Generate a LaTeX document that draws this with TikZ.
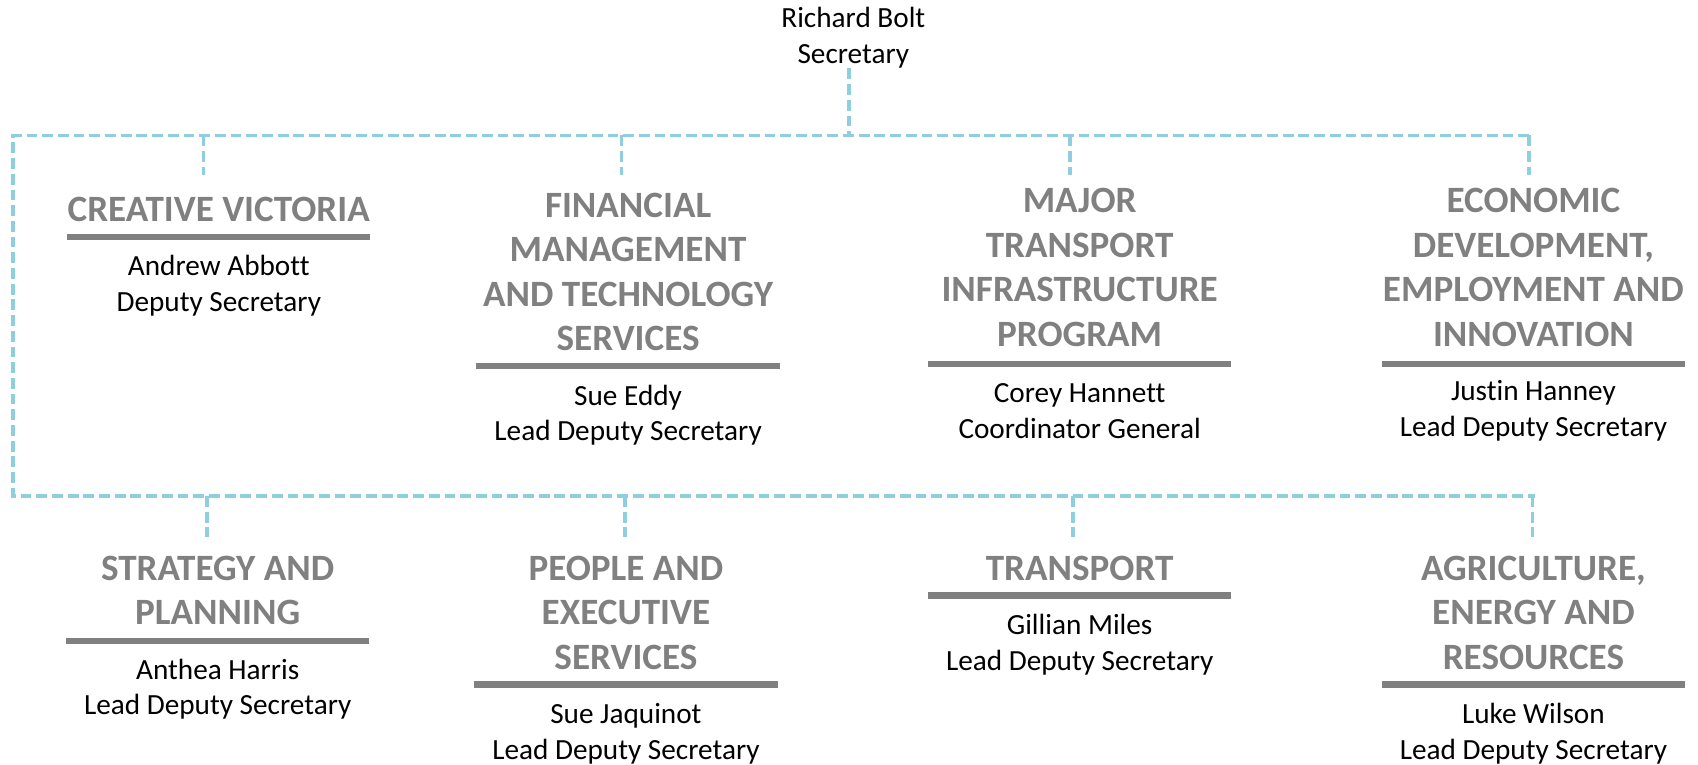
\documentclass[tikz,border=0pt]{standalone}
\usepackage{fontspec}
\setmainfont{Carlito}[Ligatures=NoCommon]
\definecolor{linkblue}{RGB}{142,206,222}
\definecolor{headgray}{RGB}{128,128,128}
\begin{document}
\begin{tikzpicture}
    [
    x=1pt,y=-1pt,
    head/.style={font=\fontsize{34.3}{41}\selectfont\bfseries,text=headgray,align=center,inner sep=0pt},
    bar/.style={fill=headgray,inner sep=0pt,minimum width=280pt,minimum height=6pt},
    who/.style={font=\fontsize{27}{33}\selectfont,align=center,inner sep=0pt},
    link/.style={draw=linkblue,line width=3.2pt,dash pattern=on 10pt off 4.5pt}
    ]
    \useasboundingbox (0,0) rectangle (1568,706);
    \node (boss) at (788,35) [who] {Richard Bolt\\Secretary};
    % bus lines
    \coordinate (top) at (784,125);
    \coordinate (nw) at (12,125);
    \coordinate (ne) at (1412,125);
    \coordinate (sw) at (12,458);
    \coordinate (se) at (1417,458);
    \draw [link] (boss.south -| top) -- (top);
    \draw [link] (ne) -- (nw) -- (sw) -- (se);
    % top row
    \node (cv) at (202,193) [head] {CREATIVE VICTORIA};
    \node (cvbar) at (202,219) [bar] {};
    \node (cvwho) at (202,263.5) [who] {Andrew Abbott\\Deputy Secretary};
    \node (fm) at (580,251) [head] {FINANCIAL\\MANAGEMENT\\AND TECHNOLOGY\\SERVICES};
    \node (fmbar) at (580,338) [bar] {};
    \node (fmwho) at (580,383.5) [who] {Sue Eddy\\Lead Deputy Secretary};
    \node (mt) at (997,247) [head] {MAJOR\\TRANSPORT\\INFRASTRUCTURE\\PROGRAM};
    \node (mtbar) at (997,336) [bar] {};
    \node (mtwho) at (997,379.5) [who] {Corey Hannett\\Coordinator General};
    \node (ed) at (1416,247) [head] {ECONOMIC\\DEVELOPMENT,\\EMPLOYMENT AND\\INNOVATION};
    \node (edbar) at (1416,336) [bar] {};
    \node (edwho) at (1416,379.5) [who] {Justin Hanney\\Lead Deputy Secretary};
    % bottom row
    \node (sp) at (201,545.5) [head] {STRATEGY AND\\PLANNING};
    \node (spbar) at (201,592) [bar] {};
    \node (spwho) at (201,636.5) [who] {Anthea Harris\\Lead Deputy Secretary};
    \node (pe) at (578,566) [head] {PEOPLE AND\\EXECUTIVE\\SERVICES};
    \node (pebar) at (578,632) [bar] {};
    \node (pewho) at (578,677.5) [who] {Sue Jaquinot\\Lead Deputy Secretary};
    \node (tr) at (997,525) [head] {TRANSPORT};
    \node (trbar) at (997,550) [bar] {};
    \node (trwho) at (997,595) [who] {Gillian Miles\\Lead Deputy Secretary};
    \node (ag) at (1416,566) [head] {AGRICULTURE,\\ENERGY AND\\RESOURCES};
    \node (agbar) at (1416,632) [bar] {};
    \node (agwho) at (1416,677.5) [who] {Luke Wilson\\Lead Deputy Secretary};
    % drops
    \coordinate (cvtop) at (188,125);
    \coordinate (cvend) at (188,162);
    \coordinate (fmtop) at (574,125);
    \coordinate (fmend) at (574,162);
    \coordinate (mttop) at (988,125);
    \coordinate (mtend) at (988,162);
    \coordinate (edtop) at (1412,125);
    \coordinate (edend) at (1412,162);
    \coordinate (sptop) at (191,458);
    \coordinate (spend) at (191,496);
    \coordinate (petop) at (577,458);
    \coordinate (peend) at (577,496);
    \coordinate (trtop) at (991,458);
    \coordinate (trend) at (991,496);
    \coordinate (agtop) at (1415,458);
    \coordinate (agend) at (1415,496);
    \draw [link] (cvtop) -- (cvend);
    \draw [link] (fmtop) -- (fmend);
    \draw [link] (mttop) -- (mtend);
    \draw [link] (edtop) -- (edend);
    \draw [link] (sptop) -- (spend);
    \draw [link] (petop) -- (peend);
    \draw [link] (trtop) -- (trend);
    \draw [link] (agtop) -- (agend);
  \end{tikzpicture}
\end{document}
